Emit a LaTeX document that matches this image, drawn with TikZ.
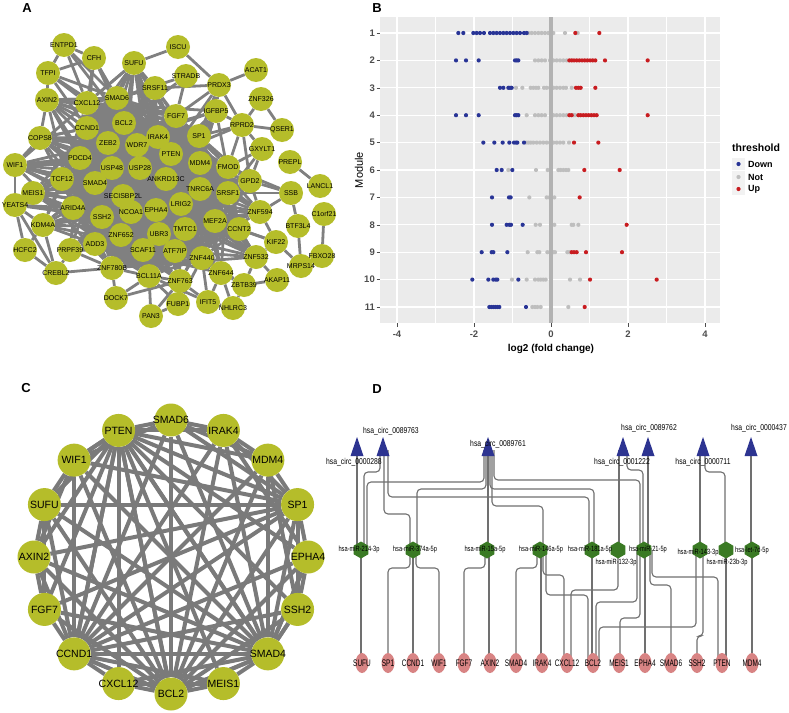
\documentclass[tikz,border=0pt]{standalone}
\usepackage{fontspec}
\setmainfont{Liberation Sans}
\newfontfamily\narc[FakeStretch=0.8]{Liberation Sans}
\newfontfamily\narm[FakeStretch=0.75]{Liberation Sans}
\newfontfamily\narg[FakeStretch=0.68]{Liberation Sans}
\usetikzlibrary{shapes.geometric,calc}
\pgfdeclarelayer{bgl}
\pgfdeclarelayer{edges}
\pgfsetlayers{bgl,edges,main}
\definecolor{ygreen}{RGB}{181,189,42}
\definecolor{egray}{RGB}{128,128,128}
\definecolor{cgray}{RGB}{122,122,122}
\definecolor{bbg}{RGB}{235,235,235}
\definecolor{bdown}{RGB}{40,52,150}
\definecolor{bnot}{RGB}{190,190,190}
\definecolor{bup}{RGB}{200,28,32}
\definecolor{vline}{RGB}{178,178,178}
\definecolor{axtxt}{RGB}{77,77,77}
\definecolor{navy}{RGB}{45,52,145}
\definecolor{mgreen}{RGB}{58,122,36}
\definecolor{gpink}{RGB}{216,132,132}
\definecolor{dgray}{RGB}{112,112,112}
\definecolor{keybg}{RGB}{242,242,242}
\newcommand\Droute[5]{\draw[dl] (#2,0 |- #1) -- (#2,#3) -- (#4,#3) -- (#4,0 |- #5);}
\newcommand\Dstraight[3]{\draw[dl] (#2,0 |- #1) -- (#2,0 |- #3);}
\newcommand\Brow[4]{%
  \pgfmathsetmacro\yy{33+(#1-1)*27.4}%
  \foreach \z in {#3} \fill[bnot] ({320+\z/3},\yy) circle (2.1pt);
  \foreach \z in {#2} \fill[bdown] ({320+\z/3},\yy) circle (2.1pt);
  \foreach \z in {#4} \fill[bup] ({320+\z/3},\yy) circle (2.1pt);
}
\def\Anodes{ENTPD1/64/45,CFH/94/58,SUFU/134/63,ISCU/178/47,TFPI/48/73,STRADB/186/76,ACAT1/256/70,PRDX3/219/85,SRSF11/155/88,AXIN2/47/100,CXCL12/87/103,SMAD6/117/98,ZNF326/261/99,FGF7/176/116,IGFBP5/216/111,BCL2/124/123,RPRD2/242/125,QSER1/282/130,CCND1/87/128,COPS8/40/138,IRAK4/158/137,SP1/199/136,ZEB2/108/143,WDR7/137/145,GXYLT1/262/149,PTEN/171/154,PDCD4/80/158,PREPL/290/162,MDM4/200/163,FMOD/228/167,USP48/112/168,USP28/140/168,WIF1/15/165,TCF12/62/179,ANKRD13C/166/179,GPD2/250/181,SMAD4/95/183,LANCL1/320/186,TNRC6A/200/189,SRSF1/228/193,MEIS1/33/193,SSB/291/193,SECISBP2L/123/196,LRIG2/181/204,YEATS4/15/205,ARID4A/73/208,EPHA4/156/210,NCOA1/131/212,ZNF594/260/212,C1orf21/324/214,SSH2/102/217,MEF2A/215/221,KDM4A/43/225,BTF3L4/298/226,CCNT2/239/229,TMTC1/185/229,UBR3/159/234,ZNF652/121/235,KIF22/276/242,ADD3/95/244,HCFC2/25/250,PRPF39/70/250,SCAF11/143/250,ATF7IP/175/251,FBXO28/322/256,ZNF440/202/258,ZNF532/256/257,MRPS14/301/266,ZNF780B/112/268,CREBL2/56/273,ZNF644/221/273,BCL11A/149/276,AKAP11/277/280,ZNF763/180/281,ZBTB39/244/285,DOCK7/116/298,IFIT5/208/302,FUBP1/178/304,NHLRC3/233/308,PAN3/151/316}
\def\Icore{SMAD6,CXCL12,CCND1,BCL2,ZEB2,WDR7,IRAK4,PTEN,SP1,FGF7,PDCD4,USP48,USP28,MDM4,FMOD,SMAD4,ANKRD13C,TNRC6A,SRSF1,SECISBP2L,NCOA1,EPHA4,LRIG2,SSH2,MEF2A,CCNT2,TMTC1,ZNF652,UBR3,ADD3,SCAF11,ATF7IP,ZNF440,BCL11A,ZNF780B,TCF12,ARID4A}
\def\Semi{SRSF11,IGFBP5,GPD2,ZNF594,ZNF532,ZNF644,ZNF763,PRPF39,KDM4A,MEIS1,WIF1,COPS8,AXIN2,SUFU}
\def\Aperi{ENTPD1/TFPI,ENTPD1/CFH,ENTPD1/CXCL12,ENTPD1/SMAD6,ENTPD1/BCL2,CFH/TFPI,CFH/SMAD6,CFH/CXCL12,CFH/BCL2,CFH/CCND1,TFPI/CXCL12,TFPI/SMAD6,TFPI/AXIN2,TFPI/CCND1,TFPI/BCL2,SUFU/SMAD6,SUFU/CXCL12,SUFU/BCL2,SUFU/ISCU,SUFU/SRSF11,SUFU/CCND1,SUFU/PTEN,ISCU/PRDX3,STRADB/FGF7,STRADB/SMAD6,STRADB/BCL2,PRDX3/ACAT1,PRDX3/IGFBP5,PRDX3/SP1,PRDX3/RPRD2,PRDX3/FGF7,PRDX3/SRSF11,PRDX3/PTEN,PRDX3/MDM4,ZNF326/RPRD2,ZNF326/QSER1,RPRD2/QSER1,RPRD2/SP1,RPRD2/IGFBP5,RPRD2/PTEN,RPRD2/FMOD,RPRD2/GPD2,GXYLT1/FMOD,GXYLT1/RPRD2,GXYLT1/GPD2,GXYLT1/SRSF1,COPS8/CCND1,COPS8/AXIN2,COPS8/WIF1,AXIN2/CXCL12,AXIN2/SMAD6,WIF1/PDCD4,WIF1/SMAD4,WIF1/TCF12,YEATS4/MEIS1,YEATS4/KDM4A,YEATS4/HCFC2,YEATS4/CREBL2,YEATS4/WIF1,YEATS4/TCF12,YEATS4/ARID4A,YEATS4/SMAD4,YEATS4/SSH2,HCFC2/KDM4A,HCFC2/CREBL2,CREBL2/KDM4A,CREBL2/ZNF780B,CREBL2/PRPF39,DOCK7/ZNF780B,DOCK7/BCL11A,DOCK7/ZNF763,PAN3/FUBP1,PAN3/BCL11A,PAN3/ZNF763,FUBP1/ZNF763,FUBP1/BCL11A,FUBP1/ZNF440,IFIT5/ZNF644,IFIT5/ZNF763,IFIT5/ZNF440,IFIT5/BCL11A,NHLRC3/IFIT5,NHLRC3/ZBTB39,NHLRC3/ZNF644,ZBTB39/ZNF644,ZBTB39/ZNF532,ZBTB39/ZNF440,AKAP11/ZBTB39,AKAP11/ZNF532,KIF22/ZNF532,KIF22/ZNF594,KIF22/CCNT2,KIF22/MEF2A,MRPS14/BTF3L4,MRPS14/KIF22,BTF3L4/SSB,SSB/GPD2,SSB/ZNF594,SSB/FMOD,SSB/SRSF1,PREPL/LANCL1,C1orf21/FBXO28,ZNF532/CCNT2,ZNF594/GPD2}
\begin{document}
\begin{tikzpicture}[x=1pt,y=-1pt,
  anode/.style={circle,fill=ygreen,minimum size=24pt,inner sep=0pt},
  alab/.style={font=\fontsize{7}{8}\selectfont,inner sep=0pt},
  aedge/.style={draw=egray,line width=2.8pt},
  cnode/.style={circle,fill=ygreen,minimum size=33pt,inner sep=0pt},
  clab/.style={font=\fontsize{10.5}{12}\selectfont,inner sep=0pt},
  cedge/.style={draw=cgray,line width=4pt},
  plab/.style={font=\bfseries\fontsize{13}{14}\selectfont,inner sep=0pt},
  btick/.style={font=\bfseries\fontsize{9.5}{10}\selectfont,text=axtxt,inner sep=0pt},
  hexn/.style={regular polygon,regular polygon sides=6,shape border rotate=30,minimum size=17pt,fill=mgreen,inner sep=0pt},
  gnode/.style={ellipse,minimum width=13pt,minimum height=20pt,fill=gpink,inner sep=0pt},
  glab/.style={font=\narg\fontsize{9.5}{10}\selectfont,inner sep=0pt},
  circlab/.style={font=\narc\fontsize{8.5}{9}\selectfont,inner sep=0pt},
  mirlab/.style={font=\narm\fontsize{7.6}{8}\selectfont,inner sep=0pt},
  dl/.style={draw=dgray,line width=1.1pt,rounded corners=4pt}]
\useasboundingbox (0,0) rectangle (789,712);
\begin{pgfonlayer}{bgl}
\fill[white] (0,0) rectangle (789,712);
\end{pgfonlayer}

% ---------------- Panel A ----------------
\node[plab] (labA) at (27,8) {A};
\foreach \n/\x/\y in \Anodes { \node[anode] (\n) at (\x,\y) {}; }
\foreach \n/\x/\y in \Anodes { \node[alab] at (\n) {\n}; }
\begin{pgfonlayer}{edges}
\foreach \a [count=\i] in \Icore {
  \foreach \b [count=\j] in \Icore {
    \ifnum\j>\i \draw[aedge] (\a) -- (\b); \fi
  }
}
\foreach \a [count=\i] in \Semi {
  \foreach \b [count=\j] in \Icore {
    \pgfmathtruncatemacro\r{mod(2*\i+\j,3)}
    \ifnum\r=0 \draw[aedge] (\a) -- (\b); \fi
  }
}
\foreach \a/\b in \Aperi { \draw[aedge] (\a) -- (\b); }
\end{pgfonlayer}

% ---------------- Panel B ----------------
\node[plab] (labB) at (377,8) {B};
\fill[bbg] (380,17) rectangle (720,323);
\foreach \v in {-3,-1,1,3} \draw[white,line width=0.6pt] ({551+38.5*\v},17) -- ({551+38.5*\v},323);
\foreach \v in {-4,-2,0,2,4} \draw[white,line width=1.2pt] ({551+38.5*\v},17) -- ({551+38.5*\v},323);
\foreach \k in {1,...,11} {
  \pgfmathsetmacro\yy{33+(\k-1)*27.4}
  \draw[white,line width=1.2pt] (380,\yy) -- (720,\yy);
  \draw[axtxt,line width=0.6pt] (376.5,\yy) -- (380,\yy);
  \node[btick,anchor=east] at (375,\yy) {\k};
}
\Brow{1}{415,430,460,470,480,492,510,520,530,540,550,560,570,580,590,600,612,620}{625,635,645,655,665,675,685,695,700,735,773}{766,838}
\Brow{2}{408,438,476,585,590,595}{645,655,665,675,690,700,710,720,730,740}{748,755,762,770,778,786,794,802,810,818,826,855,983}
\Brow{3}{540,550,565,570,575}{588,607,632,640,648,655,672,680,690,700,710,720,730,738,755}{768,775,782,826}
\Brow{4}{408,438,476,585,590,595}{620,645,655,665,675,700,710,720,730,740,760,765}{748,755,775,782,790,798,806,814,822,830,983}
\Brow{5}{490,523,548,568,582,588,592,612}{618,625,632,640,650,660,670,680,690,700,710,720,730,747}{762,835}
\Brow{6}{530,545,577}{565,648,683,715,722,730,738,745}{793,899}
\Brow{7}{516,567,572}{628,680,688,703}{779}
\Brow{8}{516,560,568,573,608}{647,660,703,755,760,775}{920}
\Brow{9}{485,515,520,562}{623,652,658,682,690,700,705,742,748}{755,762,770,798,906}
\Brow{10}{457,505,520,527,532,595}{576,620,645,655,662,670,677,750,780}{810,1010}
\Brow{11}{508,514,520,526,532,538,618}{637,645,652,662,745}{794}
\draw[vline,line width=4.5pt] (551,17) -- (551,323);
\foreach \v in {-4,-2,0,2,4} {
  \draw[axtxt,line width=0.6pt] ({551+38.5*\v},323) -- ({551+38.5*\v},326.5);
  \node[btick] at ({551+38.5*\v},334) {\v};
}
\node[font=\bfseries\fontsize{10}{11}\selectfont,inner sep=0pt] (xlab) at (551,349) {log2 (fold change)};
\node[font=\fontsize{11}{12}\selectfont,rotate=90,inner sep=0pt] (ylab) at (359,170) {Module};
\node[font=\bfseries\fontsize{10.5}{11}\selectfont,anchor=west,inner sep=0pt] (legt) at (732,148) {threshold};
\foreach \yk/\c/\t in {164/bdown/Down,177/bnot/Not,189/bup/Up} {
  \fill[keybg] (732,\yk-6) rectangle (745,\yk+6);
  \fill[\c] (738.5,\yk) circle (2.1pt);
  \node[font=\bfseries\fontsize{9}{10}\selectfont,anchor=west,inner sep=0pt] at (748,\yk) {\t};
}

% ---------------- Panel C ----------------
\node[plab] (labC) at (26,388) {C};
\foreach \k/\t in {0/SMAD6,1/IRAK4,2/MDM4,3/SP1,4/EPHA4,5/SSH2,6/SMAD4,7/MEIS1,8/BCL2,9/CXCL12,10/CCND1,11/FGF7,12/AXIN2,13/SUFU,14/WIF1,15/PTEN} {
  \pgfmathsetmacro\cx{171+137*cos(90-22.5*\k)}
  \pgfmathsetmacro\cy{557-137*sin(90-22.5*\k)}
  \node[cnode] (c\k) at (\cx,\cy) {};
  \node[clab] at (c\k) {\t};
}
\begin{pgfonlayer}{edges}
\foreach \h in {15,6,8,10} {
  \foreach \k in {0,...,15} { \ifnum\h=\k\relax\else \draw[cedge] (c\h) -- (c\k);\fi }
}
\foreach \a/\b in {0/1,1/2,2/3,3/4,4/5,5/6,11/12,12/13,13/14,14/15,
  3/0,3/1,3/13,3/11,3/12,3/14,3/5,0/2,1/4,2/5,12/14,11/13,13/15,0/14,9/7,4/6}
  { \draw[cedge] (c\a) -- (c\b); }
\end{pgfonlayer}

% ---------------- Panel D ----------------
\node[plab] (labD) at (377,389) {D};
\foreach \n/\x in {ca/357,cb/383,cc/488,cd/623,ce/648,cf/703,cg/751} { \coordinate (\n) at (\x,450); }
\foreach \n/\x in {m1/361,m2/413,m3/487,m4/540,m5/592,m6/618,m7/644,m8/700,m9/726,m10/752} { \node[hexn] (\n) at (\x,550) {}; }
\foreach \n/\x/\t in {g1/362/SUFU,g2/388/SP1,g3/413/CCND1,g4/439/WIF1,g5/464/FGF7,g6/490/AXIN2,g7/516/SMAD4,g8/542/IRAK4,g9/567/CXCL12,g10/593/BCL2,g11/619/MEIS1,g12/645/EPHA4,g13/671/SMAD6,g14/697/SSH2,g15/722/PTEN,g16/752/MDM4} {
  \node[gnode] (\n) at (\x,663) {};
}
\begin{pgfonlayer}{edges}
\Dstraight{ca}{357}{m1}
\Droute{cb}{380}{472}{364}{m1}
\Droute{cb}{384}{514}{410}{m2}
\Droute{cb}{388}{497}{589}{m5}
\Droute{cc}{484}{482}{367}{m1}
\Droute{cc}{486}{489}{417}{m2}
\Dstraight{cc}{488}{m3}
\Droute{cc}{492}{506}{543}{m4}
\Droute{cc}{490}{489}{594}{m5}
\Droute{cc}{494}{480}{640}{m7}
\Dstraight{cd}{619}{m6}
\Droute{cd}{627}{470}{643}{m7}
\Dstraight{ce}{648}{m7}
\Dstraight{cf}{700}{m8}
\Droute{cf}{705}{472}{725}{m9}
\Dstraight{cg}{751}{m10}
\Dstraight{m1}{361}{g1}
\Droute{m2}{410}{568}{388}{g2}
\Dstraight{m2}{413}{g3}
\Droute{m2}{416}{568}{439}{g4}
\Droute{m3}{485}{568}{464}{g5}
\Dstraight{m3}{489}{g6}
\Droute{m4}{537}{568}{516}{g7}
\Dstraight{m4}{541}{g8}
\Droute{m4}{543}{575}{564}{g9}
\Droute{m4}{546}{595}{588}{g10}
\Dstraight{m5}{592}{g10}
\Droute{m6}{618}{590}{571}{g9}
\Droute{m7}{637}{602}{596}{g10}
\Droute{m7}{640}{618}{620}{g11}
\Dstraight{m7}{645}{g12}
\Droute{m7}{650}{585}{671}{g13}
\Droute{m7}{652}{577}{718}{g15}
\Droute{m8}{696}{627}{599}{g10}
\Droute{m8}{703}{636}{697}{g14}
\Dstraight{m9}{726}{g15}
\Dstraight{m10}{752}{g16}
\end{pgfonlayer}
\foreach \n in {ca,cb,cc,cd,ce,cf,cg} { \fill[navy] ($(\n)+(-6.5,6)$) -- ($(\n)+(0,-13)$) -- ($(\n)+(6.5,6)$) -- cycle; }
\node[circlab] at (354,462) {hsa\_circ\_0000288};
\node[circlab] at (391,431) {hsa\_circ\_0089763};
\node[circlab] at (498,444) {hsa\_circ\_0089761};
\node[circlab] at (622,462) {hsa\_circ\_0001222};
\node[circlab] at (649,428) {hsa\_circ\_0089762};
\node[circlab] at (703,462) {hsa\_circ\_0000711};
\node[circlab] at (759,428) {hsa\_circ\_0000437};
\node[mirlab] at (359,550) {hsa-miR-214-3p};
\node[mirlab] at (415,550) {hsa-miR-374a-5p};
\node[mirlab] at (485,550) {hsa-miR-15a-5p};
\node[mirlab] at (541,550) {hsa-miR-146a-5p};
\node[mirlab] at (590,550) {hsa-miR-181a-5p};
\node[mirlab] at (616,563) {hsa-miR-132-3p};
\node[mirlab] at (648,550) {hsa-miR-21-5p};
\node[mirlab] at (698,553) {hsa-miR-143-3p};
\node[mirlab] at (727,563) {hsa-miR-23b-3p};
\node[mirlab] at (752,551) {hsa-let-7d-5p};
\foreach \n/\t in {g1/SUFU,g2/SP1,g3/CCND1,g4/WIF1,g5/FGF7,g6/AXIN2,g7/SMAD4,g8/IRAK4,g9/CXCL12,g10/BCL2,g11/MEIS1,g12/EPHA4,g13/SMAD6,g14/SSH2,g15/PTEN,g16/MDM4} {
  \node[glab] at (\n) {\t};
}
\end{tikzpicture}
\end{document}
